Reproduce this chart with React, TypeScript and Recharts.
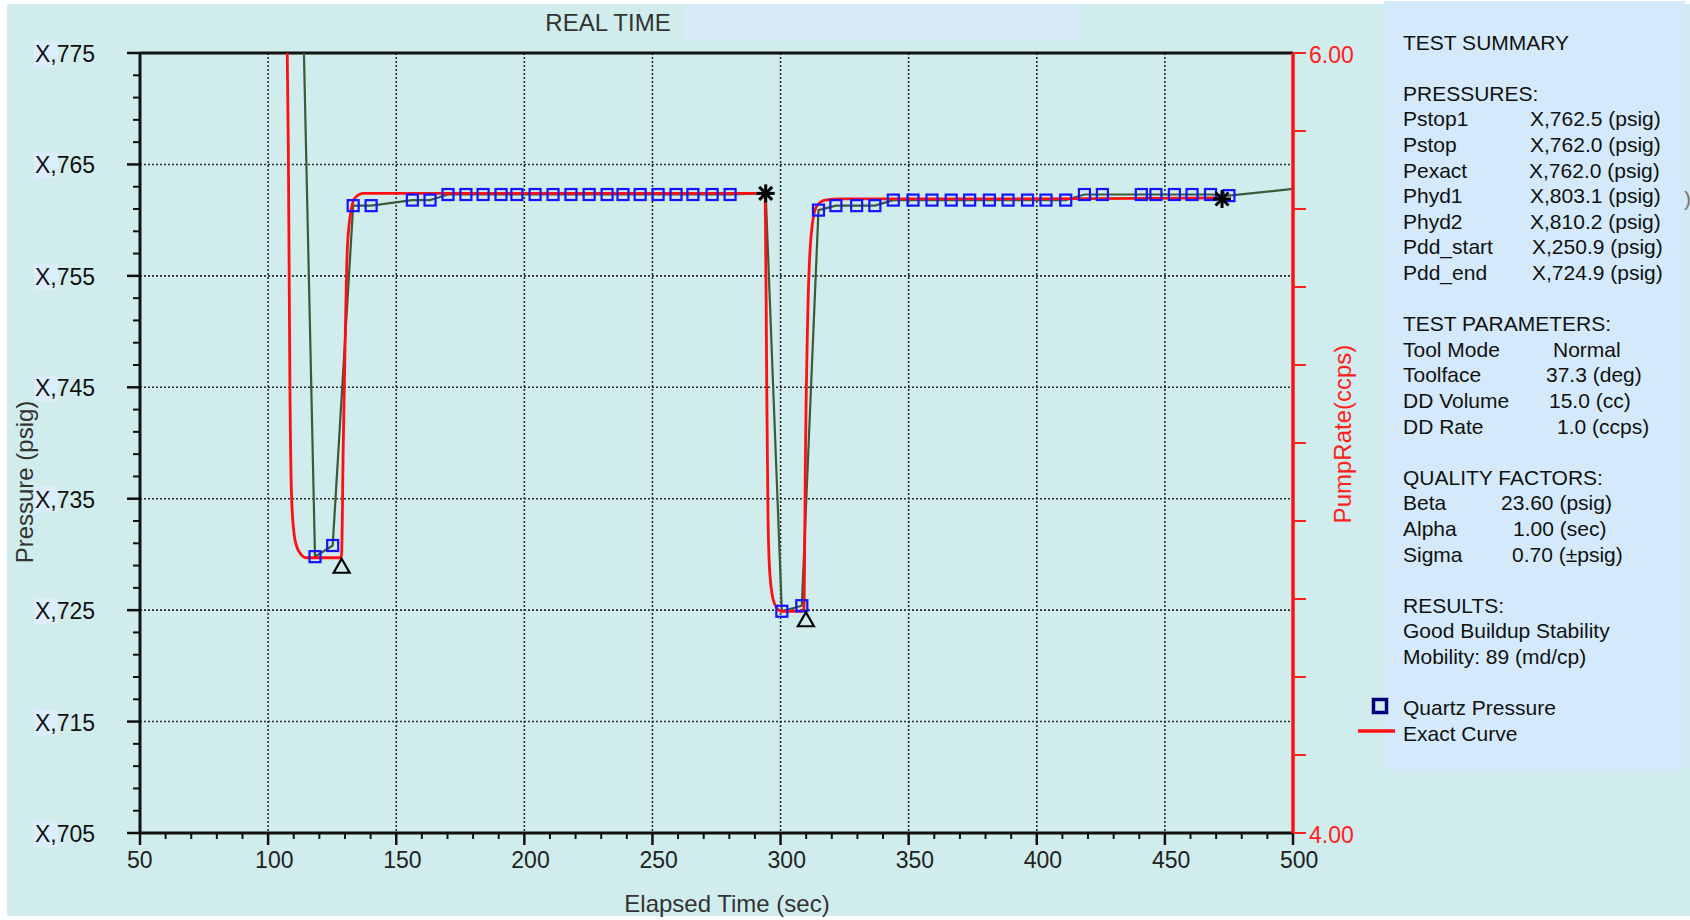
import React from 'react';
import {
  ComposedChart,
  Line,
  Scatter,
  XAxis,
  YAxis,
  CartesianGrid,
  ReferenceLine,
} from 'recharts';

const FONT = '"Liberation Sans", Arial, Helvetica, sans-serif';

// frame of the chart, page pixels
const CHART_W = 1690;
const CHART_H = 920;
const PLOT_TOP = 53;
const PLOT_BOTTOM = 833;
const PLOT_LEFT = 140;
const PLOT_RIGHT = 1293;

// Quartz gauge readings: elapsed time (sec) / pressure (psig)
const quartzTime = [
  111.3, 118.3, 125.2, 133.2, 140.2, 156.3, 163.2,
  170.2, 177.2, 183.9, 190.9, 197.1, 204.2, 211.2, 218.2, 225.3, 232.3, 238.5, 245.2, 252.2, 259.2, 265.8, 273.3, 280.3,
  294.2, 300.5, 308.3, 314.8,
  321.6, 329.7, 336.8,
  344.0, 351.7, 359.1, 366.6, 373.8, 381.5, 388.8, 396.4, 403.6, 411.3,
  418.6, 425.6, 440.8, 446.5, 453.7, 460.6, 467.8, 475.0, 500.0,
];
const quartzPressure = [
  803.1, 729.8, 730.8, 761.3, 761.3, 761.8, 761.8,
  762.3, 762.3, 762.3, 762.3, 762.3, 762.3, 762.3, 762.3, 762.3, 762.3, 762.3, 762.3, 762.3, 762.3, 762.3, 762.3, 762.3,
  762.4, 724.9, 725.4, 760.9,
  761.3, 761.3, 761.3,
  761.8, 761.8, 761.8, 761.8, 761.8, 761.8, 761.8, 761.8, 761.8, 761.8,
  762.3, 762.3, 762.3, 762.3, 762.3, 762.3, 762.3, 762.2, 762.8,
];
// readings drawn without a square (off the plot, or under a Pstop star)
const quartzNoMarker = [111.3, 294.2, 500.0];

// model (exact) curve
const exactTime = [
  106.9, 107.9, 108.5, 109.2, 110.5, 112.5, 115.1, 128.4, 128.7, 129.3, 130.0, 130.9, 132.0, 133.9, 137.2,
  294.0, 294.6, 295.1, 295.9, 297.6, 300.3, 308.5, 309.2, 309.6, 310.6, 312.0, 314.0, 317.4, 323.6, 400.0, 472.5,
];
const exactPressure = [
  786.0, 766.3, 745.4, 734.9, 731.3, 730.1, 729.7, 729.7, 730.1, 739.4, 748.3, 757.3, 760.3, 762.0, 762.4,
  762.4, 745.4, 733.4, 728.0, 725.6, 724.9, 724.9, 725.3, 736.4, 751.3, 758.8, 761.2, 761.8, 761.9, 761.9, 762.0,
];

// Pstop picks (stars) and drawdown ends (triangles)
const pstopTime = [294.2, 472.3];
const pstopPressure = [762.4, 761.9];
const ddEndTime = [128.7, 309.9];
const ddEndPressure = [729.7, 724.9];

// axes
const timeTicks = [50, 100, 150, 200, 250, 300, 350, 400, 450, 500];
const pressureTicks = [705, 715, 725, 735, 745, 755, 765, 775];
const pressureTickLabels = ['X,705', 'X,715', 'X,725', 'X,735', 'X,745', 'X,755', 'X,765', 'X,775'];
const rateTicks = [4.0, 4.2, 4.4, 4.6, 4.8, 5.0, 5.2, 5.4, 5.6, 5.8, 6.0];
const rateTickLabels: Record<string, string> = { '4': '4.00', '6': '6.00' };

const range = (a: number, b: number, step: number) => {
  const out: number[] = [];
  for (let v = a; v <= b + 1e-9; v += step) out.push(Math.round(v * 100) / 100);
  return out;
};
const timeAllTicks = range(50, 500, 10);
const pressureAllTicks = range(705, 775, 2);

// summary panel text
const pressureRows = [
  ['Pstop1', 'X,762.5 (psig)'],
  ['Pstop', 'X,762.0 (psig)'],
  ['Pexact', 'X,762.0 (psig)'],
  ['Phyd1', 'X,803.1 (psig)'],
  ['Phyd2', 'X,810.2 (psig)'],
  ['Pdd_start', 'X,250.9 (psig)'],
  ['Pdd_end', 'X,724.9 (psig)'],
];
const paramRows = [
  ['Tool Mode', 'Normal'],
  ['Toolface', '37.3 (deg)'],
  ['DD Volume', '15.0 (cc)'],
  ['DD Rate', '1.0 (ccps)'],
];
const qualityRows = [
  ['Beta', '23.60 (psig)'],
  ['Alpha', '1.00 (sec)'],
  ['Sigma', '0.70 (\u00b1psig)'],
];
const resultLines = ['Good Buildup Stability', 'Mobility: 89 (md/cp)'];

// where each value column starts
const pressureValueX = [1530, 1530, 1529, 1530, 1530, 1532, 1532];
const paramValueX = [1553, 1546, 1549, 1557];
const qualityValueX = [1501, 1513, 1512];

const quartzData = quartzTime.map((t, i) => ({ t, p: quartzPressure[i] }));
const quartzMarks = quartzData.filter((d) => !quartzNoMarker.includes(d.t));
const exactData = exactTime.map((t, i) => ({ t, p: exactPressure[i] }));
const pstopData = pstopTime.map((t, i) => ({ t, p: pstopPressure[i] }));
const ddEndData = ddEndTime.map((t, i) => ({ t, p: ddEndPressure[i] }));

const TimeTick = (props: any) => {
  const { x, y, payload } = props;
  const v = payload.value;
  const major = timeTicks.includes(v);
  return (
    <g>
      <line x1={x} x2={x} y1={y} y2={y + (major ? 12 : 6)} stroke="#111" strokeWidth={major ? 2.5 : 2} />
      {major && (
        <text x={x - 13} y={y + 27} textAnchor="start" dominantBaseline="central" fontSize={23} fill="#222" fontFamily={FONT}>
          {v}
        </text>
      )}
    </g>
  );
};

const PressureTick = (props: any) => {
  const { x, y, payload } = props;
  const idx = pressureTicks.indexOf(payload.value);
  const major = idx >= 0;
  return (
    <g>
      <line x1={x - (major ? 13 : 7)} x2={x} y1={y} y2={y} stroke="#111" strokeWidth={major ? 2.5 : 2} />
      {major && (
        <g>
          <rect x={34} y={y - 12} width={24} height={26} fill="#DCEDFB" />
          <text x={35} y={y + 1} textAnchor="start" dominantBaseline="central" fontSize={23} fill="#111" fontFamily={FONT}>
            {pressureTickLabels[idx]}
          </text>
        </g>
      )}
    </g>
  );
};

const RateTick = (props: any) => {
  const { x, y, payload } = props;
  const label = rateTickLabels[String(payload.value)];
  return (
    <g>
      <line x1={x} x2={x + 13} y1={y} y2={y} stroke="#FF2020" strokeWidth={2} />
      {label && (
        <text x={x + 16} y={y + 2} textAnchor="start" dominantBaseline="central" fontSize={23} fill="#FF2020" fontFamily={FONT}>
          {label}
        </text>
      )}
    </g>
  );
};

const XTitle = () => (
  <text x={727} y={903} textAnchor="middle" dominantBaseline="central" fontSize={24} fill="#333" fontFamily={FONT}>
    Elapsed Time (sec)
  </text>
);

const YTitle = () => (
  <text x={24} y={482} transform="rotate(-90 24 482)" textAnchor="middle" dominantBaseline="central" fontSize={24} fill="#333" fontFamily={FONT}>
    Pressure (psig)
  </text>
);

const RateTitle = () => (
  <text x={1342} y={434} transform="rotate(-90 1342 434)" textAnchor="middle" dominantBaseline="central" fontSize={24} fill="#FF2020" fontFamily={FONT}>
    PumpRate(ccps)
  </text>
);

const Square = (props: any) => {
  const { cx, cy } = props;
  return <rect x={cx - 5.5} y={cy - 5.5} width={11} height={11} fill="none" stroke="#1414FF" strokeWidth={2.2} />;
};

const Triangle = (props: any) => {
  const { cx, cy } = props;
  return <path d={`M${cx},${cy + 1} L${cx + 8},${cy + 15} L${cx - 8},${cy + 15} Z`} fill="none" stroke="#000" strokeWidth={2.2} />;
};

const Star = (props: any) => {
  const { cx, cy } = props;
  const r = 9;
  const d = r * 0.72;
  return (
    <g stroke="#000" strokeWidth={3}>
      <line x1={cx} y1={cy - r} x2={cx} y2={cy + r} />
      <line x1={cx - r} y1={cy} x2={cx + r} y2={cy} />
      <line x1={cx - d} y1={cy - d} x2={cx + d} y2={cy + d} />
      <line x1={cx - d} y1={cy + d} x2={cx + d} y2={cy - d} />
    </g>
  );
};

const rowY = (line: number) => 42 + line * 25.6;

const SummaryText = () => {
  const t = (key: string, x: number, line: number, s: string) => (
    <text key={key} x={x} y={rowY(line)} dominantBaseline="central" fontSize={21} fill="#111" fontFamily={FONT}>
      {s}
    </text>
  );
  const items: React.ReactNode[] = [];
  items.push(t('h0', 1403, 0, 'TEST SUMMARY'));
  items.push(t('h1', 1403, 2, 'PRESSURES:'));
  pressureRows.forEach(([a, b], i) => {
    items.push(t(`pl${i}`, 1403, 3 + i, a));
    items.push(t(`pv${i}`, pressureValueX[i], 3 + i, b));
  });
  items.push(t('h2', 1403, 11, 'TEST PARAMETERS:'));
  paramRows.forEach(([a, b], i) => {
    items.push(t(`tl${i}`, 1403, 12 + i, a));
    items.push(t(`tv${i}`, paramValueX[i], 12 + i, b));
  });
  items.push(t('h3', 1403, 17, 'QUALITY FACTORS:'));
  qualityRows.forEach(([a, b], i) => {
    items.push(t(`ql${i}`, 1403, 18 + i, a));
    items.push(t(`qv${i}`, qualityValueX[i], 18 + i, b));
  });
  items.push(t('h4', 1403, 22, 'RESULTS:'));
  resultLines.forEach((s, i) => items.push(t(`r${i}`, 1403, 23 + i, s)));
  items.push(t('lg0', 1403, 26, 'Quartz Pressure'));
  items.push(t('lg1', 1403, 27, 'Exact Curve'));
  return <g>{items}</g>;
};

export default function App() {
  return (
    <div style={{ position: 'absolute', left: 0, top: 0, width: CHART_W, height: CHART_H, background: '#fff', overflow: 'hidden' }}>
      <div style={{ position: 'absolute', left: 7, top: 4, width: 1683, height: 912, background: '#D1ECEC' }} />
      <div style={{ position: 'absolute', left: 1384, top: 1, width: 301, height: 769, background: '#D4EAFA' }} />
      <div style={{ position: 'absolute', left: 685, top: 5, width: 396, height: 35, background: '#D7EBFB' }} />

      <div style={{ position: 'absolute', left: 0, top: 0 }}>
        <ComposedChart
          width={CHART_W}
          height={CHART_H}
          margin={{ top: PLOT_TOP, right: 0, bottom: 0, left: 0 }}
        >
          <CartesianGrid
            horizontalValues={pressureTicks}
            verticalValues={timeTicks}
            stroke="#2a2a2a"
            strokeDasharray="2 2"
            strokeWidth={1.6}
          />
          <XAxis
            dataKey="t"
            type="number"
            domain={[50, 500]}
            allowDataOverflow
            ticks={timeAllTicks}
            interval={0}
            height={CHART_H - PLOT_BOTTOM}
            tickSize={0}
            tickMargin={0}
            tickLine={false}
            tick={<TimeTick />}
            axisLine={{ stroke: '#111', strokeWidth: 3 }}
            label={<XTitle />}
          />
          <YAxis
            dataKey="p"
            type="number"
            domain={[705, 775]}
            allowDataOverflow
            ticks={pressureAllTicks}
            interval={0}
            width={PLOT_LEFT}
            tickSize={0}
            tickMargin={0}
            tickLine={false}
            tick={<PressureTick />}
            axisLine={{ stroke: '#111', strokeWidth: 3 }}
            label={<YTitle />}
          />
          <YAxis
            yAxisId="rate"
            orientation="right"
            type="number"
            domain={[4, 6]}
            allowDataOverflow
            ticks={rateTicks}
            interval={0}
            width={CHART_W - PLOT_RIGHT}
            tickSize={0}
            tickMargin={0}
            tickLine={false}
            tick={<RateTick />}
            axisLine={{ stroke: '#FF1010', strokeWidth: 3.5 }}
            label={<RateTitle />}
          />
          <ReferenceLine y={775} stroke="#111" strokeWidth={3} />
          <Line
            data={quartzData}
            dataKey="p"
            type="linear"
            stroke="#3A5A3A"
            strokeWidth={2.2}
            dot={false}
            activeDot={false}
            isAnimationActive={false}
          />
          <Line
            data={exactData}
            dataKey="p"
            type="monotone"
            stroke="#FF1010"
            strokeWidth={2.8}
            dot={false}
            activeDot={false}
            isAnimationActive={false}
          />
          <Scatter data={quartzMarks} shape={<Square />} isAnimationActive={false} />
          <Scatter data={ddEndData} shape={<Triangle />} isAnimationActive={false} />
          <Scatter data={pstopData} shape={<Star />} isAnimationActive={false} />
        </ComposedChart>
      </div>

      <svg width={CHART_W} height={CHART_H} style={{ position: 'absolute', left: 0, top: 0, pointerEvents: 'none' }}>
        <text x={608} y={22} textAnchor="middle" dominantBaseline="central" fontSize={24} fill="#333" fontFamily={FONT}>
          REAL TIME
        </text>
        <SummaryText />
        <rect x={1373.5} y={699.5} width={13} height={13} fill="none" stroke="#00007F" strokeWidth={3.5} />
        <line x1={1358} x2={1395} y1={731} y2={731} stroke="#FF1010" strokeWidth={3.5} />
        <text x={1684} y={198} dominantBaseline="central" fontSize={21} fill="#777" fontFamily={FONT}>)</text>
      </svg>
    </div>
  );
}
